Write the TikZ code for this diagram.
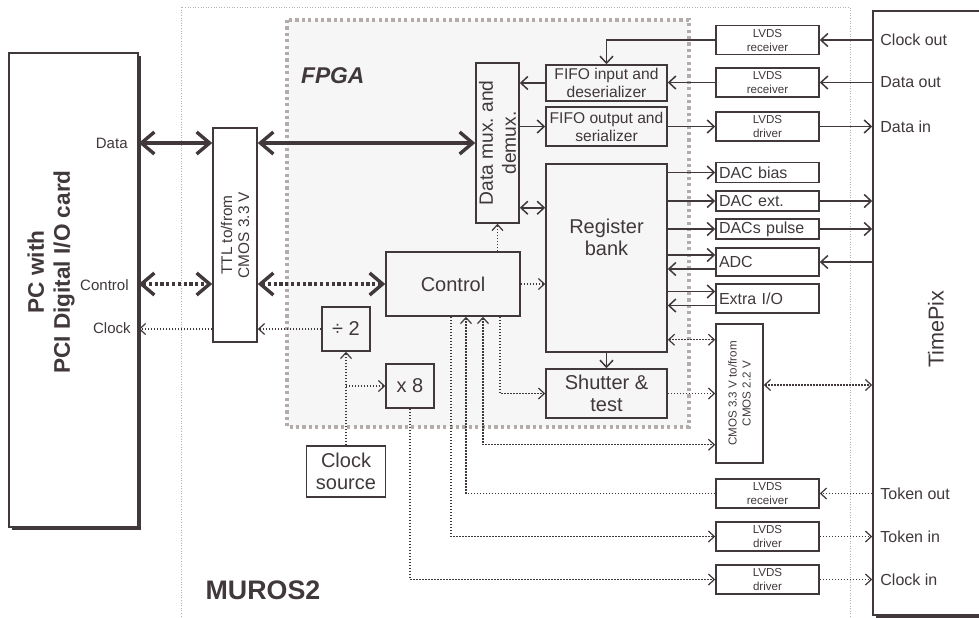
\documentclass[tikz,border=0pt]{standalone}
\usepackage{fontspec}
\setmainfont{Liberation Sans}
\usetikzlibrary{arrows.meta,shadows}
\frenchspacing

\definecolor{ink}{RGB}{64,56,58}
\definecolor{fpgagray}{RGB}{180,172,170}
\definecolor{fpgabg}{RGB}{246,246,246}
\definecolor{murosgray}{RGB}{178,178,178}

\begin{document}
\begin{tikzpicture}[x=0.5pt,y=-0.5pt,
    box/.style={draw=ink, line width=0.75pt, inner sep=1pt, align=center, text=ink,
        font=\fontsize{10}{11}\selectfont},
    lvds/.style={box, minimum width=51.5pt, minimum height=14.5pt,
        font=\fontsize{5.8}{7}\selectfont},
    dac/.style={box, minimum height=10pt, inner xsep=1.5pt, text width=48.5pt, align=left,
        font=\fontsize{8}{9}\selectfont},
    shadowed/.style={fill=white, drop shadow={shadow xshift=1.5pt, shadow yshift=-1.5pt,
        fill=ink, opacity=1}},
    lbl/.style={text=ink, inner sep=0pt, font=\fontsize{8}{9}\selectfont},
    title/.style={text=ink, font=\bfseries\fontsize{13.4}{15}\selectfont},
    line/.style={draw=ink, line width=0.75pt, >={Straight Barb[length=3.5pt,width=6.5pt]}},
    sig/.style={draw=ink, line width=0.6pt, dash pattern=on 0.7pt off 0.8pt,
        >={Straight Barb[length=3pt,width=5.5pt]}},
    bus/.style={draw=ink, line width=1.7pt, >={Straight Barb[length=6.5pt,width=11pt]}},
    cbus/.style={bus, dash pattern=on 1.6pt off 1.3pt},
    fpgaline/.style={draw=fpgagray, line width=1.7pt, dash pattern=on 1.6pt off 1.6pt},
    murosline/.style={draw=murosgray, line width=0.5pt, dash pattern=on 0.5pt off 0.8pt}]

    \useasboundingbox (0,0) rectangle (979,617);

    % MUROS2 board
    \draw[murosline] (181,640) -- (181,7) -- (850,7) -- (850,640);
    \node[title] (muros) at (263,590) {MUROS2};

    % FPGA area
    \draw[fpgaline, fill=fpgabg] (287,20) rectangle (689,427);
    \node[title, font=\bfseries\itshape\fontsize{11.4}{13}\selectfont, anchor=west] (fpga) at (294,76) {FPGA};

    % PC and TimePix
    \node[box, shadowed, minimum width=64.5pt, minimum height=237pt] (pc) at (73.5,290) {};
    \node[text=ink, rotate=90, align=center, font=\bfseries\fontsize{11.3}{13}\selectfont] (pctxt) at (51,272)
        {PC with\\PCI Digital I/O card};
    \node[box, shadowed, minimum width=63.5pt, minimum height=302pt] (tpx) at (936.5,313) {};
    \node[text=ink, rotate=90, font=\fontsize{10.8}{12}\selectfont] (tpxtxt) at (936,329) {TimePix};

    % level shifter to the PC (rotated: north = left side, south = right side)
    \node[box, rotate=90, minimum width=107pt, minimum height=22pt, font=\fontsize{7.7}{8.5}\selectfont]
        (ttl) at (235,235) {TTL to/from\\CMOS 3.3 V};

    % FPGA blocks
    \node[box, rotate=90, minimum width=80pt, minimum height=21.5pt, font=\fontsize{9.6}{11.5}\selectfont]
        (mux) at (497.5,143) {Data mux. and\\demux.};
    \node[box, minimum width=60.5pt, minimum height=18pt, font=\fontsize{7.8}{9}\selectfont]
        (fifoin) at (606.5,83) {FIFO input and\\deserializer};
    \node[box, minimum width=60.5pt, minimum height=19.5pt, font=\fontsize{7.8}{9}\selectfont]
        (fifoout) at (606.5,126.5) {FIFO output and\\serializer};
    \node[box, minimum width=60.5pt, minimum height=94pt, text depth=21pt] (reg) at (606.5,258) {Register\\bank};
    \node[box, minimum width=67pt, minimum height=32pt] (ctrl) at (453,284) {Control};
    \node[box, minimum width=24pt, minimum height=22pt] (div) at (346,329) {÷ 2};
    \node[box, minimum width=24pt, minimum height=22pt] (mul) at (410,386) {x 8};
    \node[box, minimum width=60.5pt, minimum height=24.5pt] (shut) at (606.5,393.5) {Shutter \&\\test};
    \node[box, minimum width=39.5pt, minimum height=25.5pt] (clk) at (346,471.5) {Clock\\source};

    % interface chips
    \node[lvds] (rx1) at (767.5,40) {LVDS\\receiver};
    \node[lvds] (rx2) at (767.5,82.5) {LVDS\\receiver};
    \node[lvds] (tx1) at (767.5,126.5) {LVDS\\driver};
    \node[dac] (dacb) at (767.5,172.5) {DAC bias};
    \node[dac] (dace) at (767.5,201) {DAC ext.};
    \node[dac] (dacp) at (767.5,229) {DACs pulse};
    \node[dac, minimum height=14pt] (adc) at (767.5,262) {ADC};
    \node[dac, minimum height=14.5pt] (xio) at (767.5,298.5) {Extra I/O};
    \node[box, rotate=90, minimum width=69.5pt, minimum height=23.5pt, font=\fontsize{5.8}{7}\selectfont]
        (cmos) at (739.5,393.5) {CMOS 3.3 V to/from\\CMOS 2.2 V};
    \node[lvds] (rx3) at (767.5,493.5) {LVDS\\receiver};
    \node[lvds] (tx2) at (767.5,536.5) {LVDS\\driver};
    \node[lvds] (tx3) at (767.5,579.5) {LVDS\\driver};

    % pin labels
    \node[lbl, font=\fontsize{7.5}{9}\selectfont, anchor=east] (ldata) at (128,143) {Data};
    \node[lbl, font=\fontsize{7.5}{9}\selectfont, anchor=east] (lctrl) at (129,285) {Control};
    \node[lbl, font=\fontsize{7.5}{9}\selectfont, anchor=east] (lclk) at (131,328) {Clock};
    \node[lbl, anchor=west] (lco) at (880,40) {Clock out};
    \node[lbl, anchor=west] (ldo) at (880,82.5) {Data out};
    \node[lbl, anchor=west] (ldi) at (880,126.5) {Data in};
    \node[lbl, anchor=west] (lto) at (880,493.5) {Token out};
    \node[lbl, anchor=west] (lti) at (880,536.5) {Token in};
    \node[lbl, anchor=west] (lci) at (880,579.5) {Clock in};

    % PC bus
    \draw[bus, <->] (pc.east |- mux.north) -- (ttl.north |- mux.north);
    \draw[bus, <->] (ttl.south |- mux.north) -- (mux.north);
    \draw[cbus, <->] (pc.east |- ctrl.west) -- (ttl.north |- ctrl.west);
    \draw[cbus, <->] (ttl.south |- ctrl.west) -- (ctrl.west);
    \draw[sig, ->] (div.west) -- (ttl.south |- div.west);
    \draw[sig, ->] (ttl.north |- div.west) -- (pc.east |- div.west);

    % clock tree
    \draw[sig, ->] (clk.north) -- (div.south);
    \draw[sig, ->] (clk.north |- mul.west) -- (mul.west);
    \draw[sig, ->] (mul.south) |- (tx3.west);
    \draw[sig, ->] (tx3.east) -- (tpx.west |- tx3.east);

    % data path
    \draw[line, ->] (tpx.west |- rx1.east) -- (rx1.east);
    \draw[line, ->] (rx1.west) -| (fifoin.north);
    \draw[line, ->] (tpx.west |- rx2.east) -- (rx2.east);
    \draw[line, ->] (rx2.west) -- (fifoin.east |- rx2.west);
    \draw[line, ->] (fifoin.west) -- (mux.south |- fifoin.west);
    \draw[line, ->] (mux.south |- fifoout.west) -- (fifoout.west);
    \draw[line, ->] (fifoout.east) -- (tx1.west |- fifoout.east);
    \draw[line, ->] (tx1.east) -- (tpx.west |- tx1.east);
    \coordinate (mr) at ([yshift=8pt]mux.south west);
    \draw[line, <->] (mr) -- (reg.west |- mr);

    % control
    \draw[sig, ->] (ctrl.north -| mux.west) -- (mux.west);
    \draw[sig, ->] (ctrl.east) -- (reg.west |- ctrl.east);
    \draw[sig, ->] ([xshift=23.5pt]ctrl.south) |- (shut.west);
    \coordinate (cl) at ([yshift=9.5pt]cmos.north west);
    \draw[sig, <->] ([xshift=15pt]ctrl.south) |- (cl);
    \draw[sig, ->] (rx3.west) -| ([xshift=6.5pt]ctrl.south);
    \draw[sig, ->] ([xshift=-1pt]ctrl.south) |- (tx2.west);
    \draw[sig, ->] (tpx.west |- rx3.east) -- (rx3.east);
    \draw[sig, ->] (tx2.east) -- (tpx.west |- tx2.east);

    % register bank outputs
    \draw[line, ->] (reg.east |- dacb.west) -- (dacb.west);
    \draw[line, ->] (reg.east |- dace.west) -- (dace.west);
    \draw[line, ->] (reg.east |- dacp.west) -- (dacp.west);
    \draw[line, ->] (dace.east) -- (tpx.west |- dace.east);
    \draw[line, ->] (dacp.east) -- (tpx.west |- dacp.east);
    \coordinate (ai) at ([yshift=3.5pt]adc.west);
    \coordinate (ao) at ([yshift=-3.5pt]adc.west);
    \draw[line, ->] (reg.east |- ai) -- (ai);
    \draw[line, ->] (ao) -- (reg.east |- ao);
    \draw[line, ->] (tpx.west |- adc.east) -- (adc.east);
    \coordinate (xi) at ([yshift=3.5pt]xio.west);
    \coordinate (xo) at ([yshift=-3.5pt]xio.west);
    \draw[line, ->] (reg.east |- xi) -- (xi);
    \draw[line, ->] (xo) -- (reg.east |- xo);
    \coordinate (rc) at ([yshift=6.5pt]reg.south east);
    \draw[sig, <->] (rc) -- (cmos.north |- rc);
    \draw[line, ->] (reg.south) -- (shut.north);
    \draw[sig, ->] (shut.east) -- (cmos.north |- shut.east);
    \coordinate (ct) at ([yshift=4.25pt]cmos.south);
    \draw[sig, <->] (ct) -- (tpx.west |- ct);

\end{tikzpicture}
\end{document}
